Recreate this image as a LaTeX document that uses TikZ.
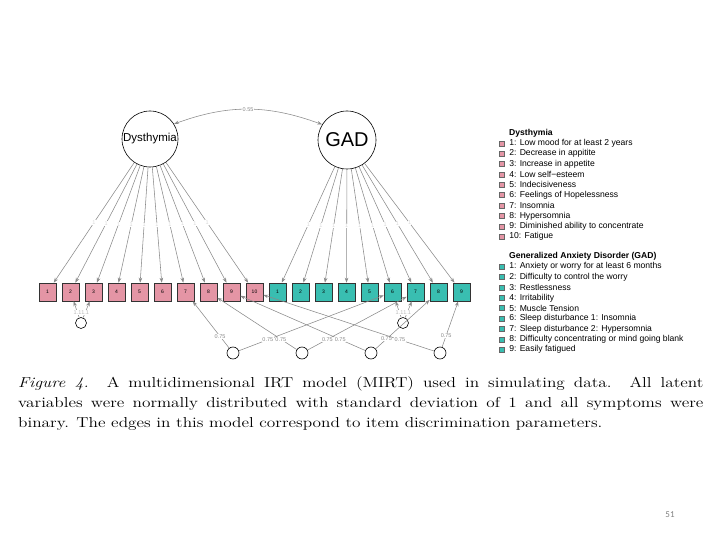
\documentclass[tikz,border=0pt]{standalone}
\usepackage{fontspec}
\usepackage{graphicx}
\usetikzlibrary{arrows.meta, positioning}
\newfontfamily\arial{Liberation Sans}
\newfontfamily\calibri{Carlito}
\definecolor{dysc}{HTML}{E495A5}
\definecolor{gadc}{HTML}{39BEB1}
\definecolor{edgec}{HTML}{8A8A8A}

\begin{document}
\begin{tikzpicture}[x=1pt, y=1pt, font=\arial,
  latent/.style={circle, draw=black, line width=0.6pt, inner sep=0pt},
  resid/.style={circle, draw=black, line width=0.6pt, minimum size=11pt, inner sep=0pt},
  item/.style={draw=black!80, line width=0.6pt, minimum width=17pt, minimum height=18pt, inner sep=0pt, font=\arial\fontsize{5}{6}\selectfont},
  edge/.style={edgec, line width=0.55pt, -{Stealth[length=5pt, width=3.6pt]}},
  lab/.style={fill=white, inner sep=0.4pt, text=edgec, font=\arial\fontsize{5.5}{6}\selectfont},
  legbox/.style={draw=black!60, line width=0.4pt, minimum size=5pt, inner sep=0pt},
  legtxt/.style={anchor=west, inner sep=0pt, font=\arial\fontsize{8.6}{10}\selectfont}]
  \useasboundingbox (0,0) rectangle (720,-540);
  % latent variables
  \node[latent, minimum size=56pt, font=\arial\fontsize{11.5}{12}\selectfont] (dys) at (150,-139) {Dysthymia};
  \node[latent, minimum size=58pt, font=\arial\fontsize{20}{22}\selectfont] (gad) at (347,-140) {GAD};
  \draw[edgec, line width=0.55pt, {Stealth[length=5pt, width=3.6pt]}-{Stealth[length=5pt, width=3.6pt]}]
    (dys.32) to[out=20, in=160] node[lab] {0.55} (gad.148);
  % symptoms
  \foreach \i in {1,...,10}
    \node[item, fill=dysc] (p\i) at ({47.5+23*(\i-1)},-292) {\i};
  \foreach \i in {1,...,9}
    \node[item, fill=gadc] (t\i) at ({277.5+23*(\i-1)},-292) {\i};
  \foreach \i in {1,...,10}
    \draw[edge] (dys) -- node[lab, text=gray!30] {1} (p\i);
  \foreach \i in {1,...,9}
    \draw[edge] (gad) -- node[lab, text=gray!30] {1} (t\i);
  % residual correlations
  \node[resid] (rd) at (81,-323) {};
  \node[resid] (rg) at (403,-323) {};
  \draw[edge] (rd) -- node[lab, pos=0.3, text=gray!55] {1.1} (p2);
  \draw[edge] (rd) -- node[lab, pos=0.3, text=gray!55] {1.1} (p3);
  \draw[edge] (rg) -- node[lab, pos=0.3, text=gray!55] {1.1} (t6);
  \draw[edge] (rg) -- node[lab, pos=0.3, text=gray!55] {1.1} (t7);
  % shared factors
  \foreach \c/\x/\a/\b/\pa/\pb in {1/233/7/6/0.25/0.2, 2/302/8/7/0.2/0.2, 3/371/9/8/0.2/0.2, 4/440/10/9/0.2/0.25} {
    \node[resid, minimum size=12pt] (s\c) at (\x,-353) {};
    \draw[edge] (s\c) -- node[lab, pos=\pa] {0.75} (p\a);
    \draw[edge] (s\c) -- node[lab, pos=\pb] {0.75} (t\b);
  }
  % legend
  \node[legtxt, font=\arial\bfseries\fontsize{8.6}{10}\selectfont] (legdys) at (509,-133) {Dysthymia};
  \foreach \t [count=\i] in {Low mood for at least 2 years, Decrease in appitite, Increase in appetite,
      Low self−esteem, Indecisiveness, Feelings of Hopelessness, Insomnia, Hypersomnia,
      Diminished ability to concentrate, Fatigue} {
    \node[legbox, fill=dysc] (ld\i) at (501.5,{-143.3-10.37*(\i-1)}) {};
    \node[legtxt, right=5pt of ld\i] {\i: \t};
  }
  \node[legtxt, font=\arial\bfseries\fontsize{8.6}{10}\selectfont] (leggad) at (509,-256.7) {Generalized Anxiety Disorder (GAD)};
  \foreach \t [count=\i] in {Anxiety or worry for at least 6 months, Difficulty to control the worry, Restlessness,
      Irritability, Muscle Tension, Sleep disturbance 1: Insomnia, Sleep disturbance 2: Hypersomnia,
      Difficulty concentrating or mind going blank, Easily fatigued} {
    \node[legbox, fill=gadc] (lg\i) at (501.5,{-266.7-10.37*(\i-1)}) {};
    \node[legtxt, right=5pt of lg\i] {\i: \t};
  }
  % caption and slide number
  \node[anchor=north west, inner sep=0pt, font=\rmfamily] (cap) at (18,-376)
    {\scalebox{1.2}[1]{\parbox{571pt}{\fontsize{14.4}{20}\selectfont
      \emph{Figure 4.}\ \ A multidimensional IRT model (MIRT) used in simulating data.\ \ All latent\linebreak
      variables were normally distributed with standard deviation of 1 and all symptoms were\linebreak
      binary. The edges in this model correspond to item discrimination parameters.}}};
  \node[text=gray, font=\calibri\fontsize{9}{10}\selectfont] (pg) at (670,-515) {51};
\end{tikzpicture}
\end{document}
